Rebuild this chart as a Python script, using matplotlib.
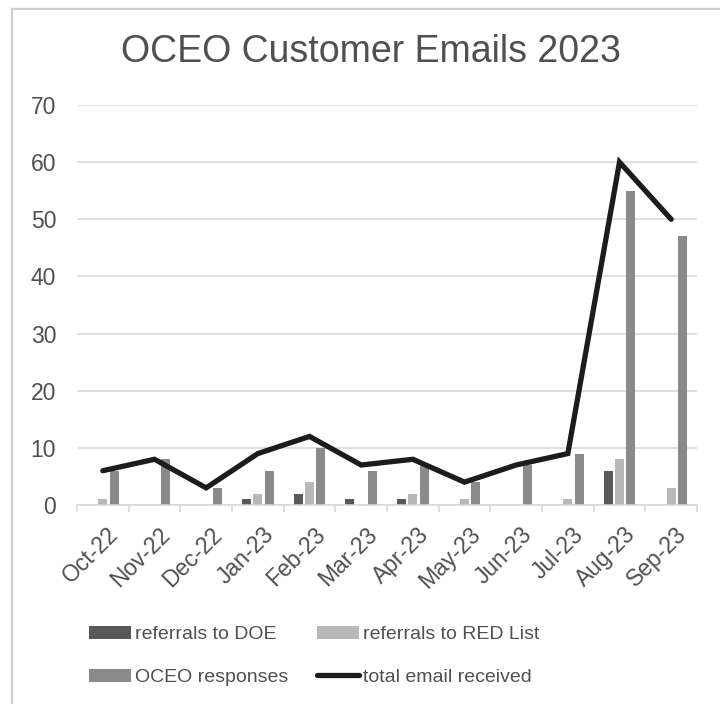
import matplotlib.pyplot as plt
import numpy as np
from matplotlib.lines import Line2D
from matplotlib.transforms import ScaledTranslation

plt.rcParams['font.family'] = ['Liberation Sans', 'DejaVu Sans']

# Monthly email counts
months = ['Oct-22', 'Nov-22', 'Dec-22', 'Jan-23', 'Feb-23', 'Mar-23',
          'Apr-23', 'May-23', 'Jun-23', 'Jul-23', 'Aug-23', 'Sep-23']
doe = [0, 0, 0, 1, 2, 1, 1, 0, 0, 0, 6, 0]
red_list = [1, 0, 0, 2, 4, 0, 2, 1, 0, 1, 8, 3]
oceo = [6, 8, 3, 6, 10, 6, 7, 4, 7, 9, 55, 47]
total = [6, 8, 3, 9, 12, 7, 8, 4, 7, 9, 60, 50]

text_col = '#505050'
grid_col = '#d9d6d6'

fig = plt.figure(figsize=(7.2, 7.04), dpi=100)
ax = fig.add_axes([77 / 720, 1 - 505 / 704, 620 / 720, 400 / 704])

# light frame on the left and top, as in the screenshot
fig.add_artist(Line2D([12 / 720, 12 / 720], [0, 1 - 9 / 704], transform=fig.transFigure,
                      color='#cfcfcf', lw=1.6))
fig.add_artist(Line2D([12 / 720, 1], [1 - 9 / 704, 1 - 9 / 704], transform=fig.transFigure,
                      color='#cfcfcf', lw=1.6))

x = np.arange(len(months))
w = 0.175
step = 0.222
b1 = ax.bar(x - step, doe, w, color='#595959', label='referrals to DOE', zorder=2)
b2 = ax.bar(x, red_list, w, color='#b8b8b8', label='referrals to RED List', zorder=2)
b3 = ax.bar(x + step, oceo, w, color='#8a8a8a', label='OCEO responses', zorder=2)
ln, = ax.plot(x, total, color='#1c1c1c', lw=3.8, solid_capstyle='round',
              solid_joinstyle='miter', label='total email received', zorder=3)

ax.set_xlim(-0.5, 11.5)
ax.set_ylim(0, 70)
ax.set_yticks(range(0, 71, 10))
ax.yaxis.grid(True, color=grid_col, lw=1.1, zorder=0)
ax.set_axisbelow(True)
for s in ['top', 'right', 'left']:
    ax.spines[s].set_visible(False)
ax.spines['bottom'].set_color(grid_col)
ax.spines['bottom'].set_linewidth(1.1)

ax.tick_params(axis='y', length=0, pad=15, labelsize=16.5, labelcolor=text_col)
# ticks on category boundaries, labels centred on categories
ax.set_xticks(np.arange(-0.5, 12, 1))
ax.set_xticklabels([])
ax.tick_params(axis='x', which='major', length=5, color=grid_col, width=1.1)
ax.set_xticks(x, minor=True)
ax.set_xticklabels(months, minor=True, rotation=45, ha='right',
                   rotation_mode='anchor', fontsize=16.5, color=text_col)
ax.tick_params(axis='x', which='minor', length=0, pad=13)
shift = ScaledTranslation(4 / 100, 0, fig.dpi_scale_trans)
for lbl in ax.get_xticklabels(minor=True):
    lbl.set_transform(lbl.get_transform() + shift)

fig.text(371 / 720, 1 - 52 / 704, 'OCEO Customer Emails 2023', ha='center',
         va='center', fontsize=27, color=text_col)

order = [b1, b3, b2, ln]
fig.legend(order, [h.get_label() for h in order],
           ncol=2, loc='center left',
           bbox_to_anchor=(71 / 720, 1 - 656 / 704), frameon=False,
           fontsize=14, handlelength=2.2, handletextpad=0.2,
           columnspacing=1.45, labelspacing=1.3, labelcolor=text_col)

plt.savefig('out.png', dpi=100)
plt.close()
